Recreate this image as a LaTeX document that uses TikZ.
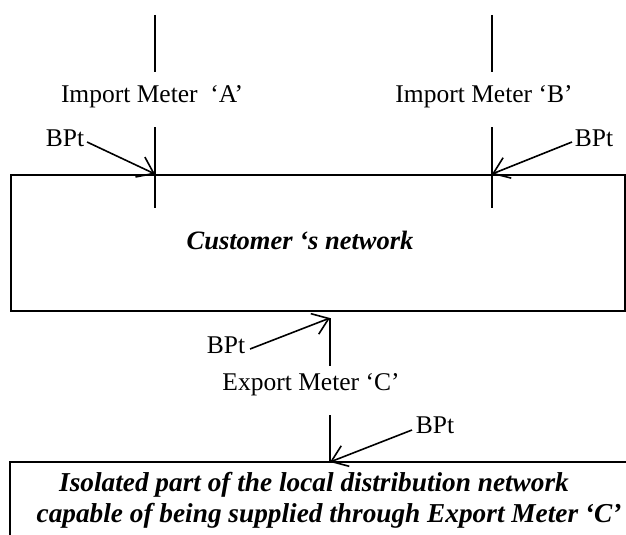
\documentclass[tikz,border=0pt]{standalone}
\usepackage{fontspec}
\setmainfont{Liberation Serif}
\usetikzlibrary{arrows.meta, positioning}

\begin{document}
\begin{tikzpicture}[
    x=1pt, y=-1pt,
    line width=1.8pt,
    lbl/.style={font=\fontsize{25.5}{30}\selectfont, inner sep=0pt},
    net/.style={font=\fontsize{27.3}{32}\selectfont\bfseries\itshape, align=center, inner sep=0pt},
    bpt/.style={-{Straight Barb[length=15pt, width=22pt]}, line width=1.6pt}
]
\useasboundingbox (0,0) rectangle (626,535);
\clip (0,0) rectangle (626,535);

% Customer's network
\node[draw, line width=1.8pt, anchor=north west, minimum width=614pt, minimum height=136pt] (cust) at (10,174) {};
\node[net, font=\fontsize{26.5}{32}\selectfont\bfseries\itshape] (custtext) at (300,240) {Customer ‘s network};

% Isolated part of the network
\draw (10,560) -- (10,462) -- (640,462);
\node[net, anchor=base] (iso1) at (314,491) {Isolated part of the local distribution network};
\node[net, anchor=base] (iso2) at (329,522) {capable of being supplied through Export Meter ‘C’};

% Import meter A
\coordinate (atop) at (155,15);
\coordinate (aend) at (155,72);
\node[lbl] (meterA) at (152,97) {Import Meter~ ‘A’};
\coordinate (abeg) at (155,127);
\coordinate (abot) at (155,208);
\coordinate (ptA) at (155,174);
\draw (atop) -- (aend);
\draw (abeg) -- (abot);

% Import meter B
\coordinate (btop) at (492,15);
\coordinate (bend) at (492,72);
\node[lbl] (meterB) at (484,97) {Import Meter ‘B’};
\coordinate (bbeg) at (492,127);
\coordinate (bbot) at (492,208);
\coordinate (ptB) at (492,174);
\draw (btop) -- (bend);
\draw (bbeg) -- (bbot);

% Export meter C
\coordinate (ptC) at (330,318);
\coordinate (cend) at (330,366);
\node[lbl] (meterC) at (311,385) {Export Meter ‘C’};
\coordinate (cbeg) at (330,415);
\coordinate (ptD) at (330,462);
\draw (ptC) -- (cend);
\draw (cbeg) -- (ptD);

% Boundary points
\node[lbl] (bpA) at (65,138) {BPt};
\node[lbl] (bpB) at (594,138) {BPt};
\node[lbl] (bpC) at (226,345) {BPt};
\node[lbl] (bpD) at (435,425) {BPt};

\draw[bpt] (bpA.east) ++(2,4) -- (ptA);
\draw[bpt] (bpB.west) ++(-2,4) -- (ptB);
\draw[bpt] (bpC.east) ++(4,4) -- (ptC);
\draw[bpt] (bpD.west) ++(-3,5) -- (ptD);

\end{tikzpicture}
\end{document}
